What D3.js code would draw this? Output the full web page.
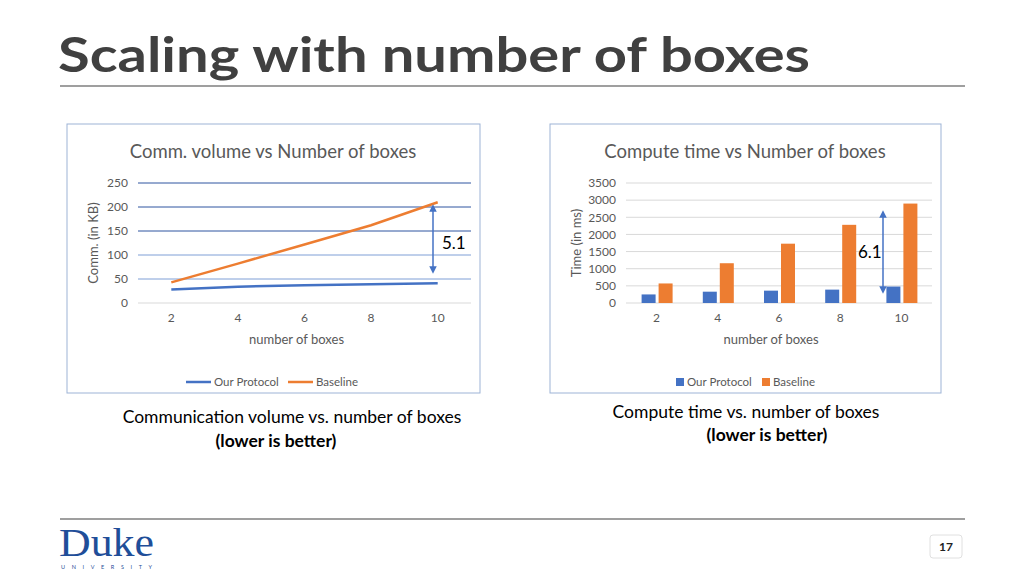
<!DOCTYPE html>
<html><head><meta charset="utf-8">
<script src="https://cdn.jsdelivr.net/npm/d3@7"></script>
<style>
body{margin:0;background:#fff;font-family:Lato,"Open Sans",sans-serif;}
</style></head><body>
<svg id="slide" width="1024" height="575" style="font-family:Lato,'Open Sans',sans-serif"></svg>
<script>
var boxes = [2, 4, 6, 8, 10];
var commOurs = [28, 34, 37, 39, 41];
var commBase = [43, 82, 122, 162, 210];
var timeOurs = [250, 330, 360, 390, 480];
var timeBase = [570, 1160, 1730, 2280, 2900];
var commTicks = [0, 50, 100, 150, 200, 250];
var timeTicks = [0, 500, 1000, 1500, 2000, 2500, 3000, 3500];

var blue = '#4472c4', orange = '#ed7d31', grey = '#595959';
var svg = d3.select('#slide');

// slide chrome
svg.append('text').attr('x', 58).attr('y', 72).attr('font-size', 48).attr('font-weight', 'bold')
	.attr('fill', '#404040').attr('textLength', 752).attr('lengthAdjust', 'spacingAndGlyphs').text('Scaling with number of boxes');
svg.append('line').attr('x1', 60).attr('x2', 965).attr('y1', 86).attr('y2', 86).attr('stroke', '#7f7f7f').attr('stroke-width', 1.5);
svg.append('line').attr('x1', 60).attr('x2', 965).attr('y1', 519).attr('y2', 519).attr('stroke', '#7f7f7f').attr('stroke-width', 1.5);
svg.append('text').attr('x', 59).attr('y', 556).style('font-family', '"Liberation Serif","DejaVu Serif",serif').attr('font-size', 40)
	.attr('fill', '#1f4e99').attr('textLength', 95).attr('lengthAdjust', 'spacingAndGlyphs').text('Duke');
svg.append('text').attr('x', 61).attr('y', 569).attr('font-size', 5.5).attr('fill', '#1f4e99')
	.attr('textLength', 91).text('UNIVERSITY');
svg.append('rect').attr('x', 930).attr('y', 535).attr('width', 32).attr('height', 23).attr('rx', 3)
	.attr('fill', '#fff').attr('stroke', '#e0e0e0');
svg.append('text').attr('x', 946).attr('y', 551).attr('text-anchor', 'middle').attr('font-size', 12)
	.attr('font-weight', 'bold').attr('fill', '#222').text('17');

// captions
function caption(x, y, t, bold) {
	svg.append('text').attr('x', x).attr('y', y).attr('text-anchor', 'middle').attr('font-size', 17.5)
		.attr('font-weight', bold ? 'bold' : 'normal').attr('fill', '#000').text(t);
}
caption(292, 423, 'Communication volume vs. number of boxes');
caption(276, 447, '(lower is better)', true);
caption(746, 418, 'Compute time vs. number of boxes');
caption(767, 441, '(lower is better)', true);

svg.append('defs').html(
	'<marker id="ah" viewBox="0 0 10 10" refX="5" refY="5" markerWidth="5" markerHeight="5" orient="auto-start-reverse">' +
	'<path d="M0,0L10,5L0,10z" fill="' + blue + '"/></marker>');

function panel(o) {
	var g = svg.append('g');
	g.append('rect').attr('x', o.box[0]).attr('y', o.box[1]).attr('width', o.box[2]).attr('height', o.box[3])
		.attr('fill', '#fff').attr('stroke', '#9db3d6');
	g.append('text').attr('x', o.titleX).attr('y', 158).attr('text-anchor', 'middle').attr('font-size', 18.5)
		.attr('fill', grey).text(o.title);
	var x = d3.scaleBand().domain(boxes).range([o.x0, o.x1]);
	var y = d3.scaleLinear().domain([0, o.ticks[o.ticks.length - 1]]).range([303, 183]);
	g.selectAll('.grid').data(o.ticks.slice(1)).enter().append('line')
		.attr('x1', o.x0).attr('x2', o.x1).attr('y1', function(d) { return y(d); }).attr('y2', function(d) { return y(d); })
		.attr('stroke', function(d, i) { return o.gridColor(d, i); }).attr('stroke-width', 1);
	g.append('line').attr('x1', o.x0).attr('x2', o.x1).attr('y1', y(0)).attr('y2', y(0)).attr('stroke', '#d9d9d9');
	var ya = g.append('g').attr('transform', 'translate(' + o.x0 + ',0)')
		.call(d3.axisLeft(y).tickValues(o.ticks).tickFormat(d3.format('d')).tickSize(0).tickPadding(10));
	ya.select('.domain').remove();
	ya.selectAll('text').attr('font-size', 12).attr('fill', grey).style('font-family', 'Lato');
	var xa = g.append('g').attr('transform', 'translate(0,303)').call(d3.axisBottom(x).tickSize(0).tickPadding(10));
	xa.select('.domain').remove();
	xa.selectAll('text').attr('font-size', 12).attr('fill', grey).style('font-family', 'Lato');
	g.append('text').attr('x', (o.x0 + o.x1) / 2 - 8).attr('y', 344).attr('text-anchor', 'middle').attr('font-size', 13)
		.attr('fill', grey).text('number of boxes');
	g.append('text').attr('transform', 'translate(' + o.yLabX + ',243) rotate(-90)').attr('text-anchor', 'middle')
		.attr('font-size', 13).attr('fill', grey).text(o.yLabel);
	o.draw(g, x, y);
	// legend
	var lg = g.append('g').attr('transform', 'translate(' + o.legX + ',382)');
	[['Our Protocol', blue, 0], ['Baseline', orange, o.legGap]].forEach(function(s) {
		if (o.bars) lg.append('rect').attr('x', s[2]).attr('y', -4).attr('width', 8).attr('height', 8).attr('fill', s[1]);
		else lg.append('line').attr('x1', s[2]).attr('x2', s[2] + 25).attr('y1', 0).attr('y2', 0).attr('stroke', s[1]).attr('stroke-width', 2.5);
		lg.append('text').attr('x', s[2] + (o.bars ? 11 : 28)).attr('y', 4).attr('font-size', 11.5).attr('fill', grey).text(s[0]);
	});
	// annotation
	g.append('line').attr('x1', o.arrow[0]).attr('x2', o.arrow[0]).attr('y1', o.arrow[1]).attr('y2', o.arrow[2])
		.attr('stroke', blue).attr('stroke-width', 1.5).attr('marker-start', 'url(#ah)').attr('marker-end', 'url(#ah)');
	g.append('text').attr('x', o.note[0]).attr('y', o.note[1]).attr('font-size', 17).attr('fill', '#000').text(o.note[2]);
}

panel({
	box: [67, 124, 413, 269], title: 'Comm. volume vs Number of boxes', titleX: 273,
	x0: 138, x1: 471, ticks: commTicks, yLabel: 'Comm. (in KB)', yLabX: 98,
	gridColor: function(d) { return d >= 150 ? '#2f55a0' : '#7e9fd6'; },
	legX: 186, legGap: 102, bars: false, arrow: [433, 208, 270], note: [442, 249, '5.1'],
	draw: function(g, x, y) {
		var line = d3.line().x(function(d, i) { return x(boxes[i]) + x.bandwidth() / 2; }).y(function(d) { return y(d); });
		g.append('path').attr('d', line(commBase)).attr('fill', 'none').attr('stroke', orange).attr('stroke-width', 2.5);
		g.append('path').attr('d', line(commOurs)).attr('fill', 'none').attr('stroke', blue).attr('stroke-width', 2.5);
	}
});

panel({
	box: [550, 124, 391, 269], title: 'Compute time vs Number of boxes', titleX: 745,
	x0: 626, x1: 932, ticks: timeTicks, yLabel: 'Time (in ms)', yLabX: 581,
	gridColor: function() { return '#d9d9d9'; },
	legX: 676, legGap: 86, bars: true, arrow: [883, 214, 290], note: [858, 258, '6.1'],
	draw: function(g, x, y) {
		var bw = 14;
		g.selectAll('.bo').data(timeOurs).enter().append('rect')
			.attr('x', function(d, i) { return x(boxes[i]) + x.bandwidth() / 2 - bw - 1; }).attr('width', bw)
			.attr('y', function(d) { return y(d); }).attr('height', function(d) { return y(0) - y(d); }).attr('fill', blue);
		g.selectAll('.bb').data(timeBase).enter().append('rect')
			.attr('x', function(d, i) { return x(boxes[i]) + x.bandwidth() / 2 + 2; }).attr('width', bw)
			.attr('y', function(d) { return y(d); }).attr('height', function(d) { return y(0) - y(d); }).attr('fill', orange);
	}
});
</script>
</body></html>
